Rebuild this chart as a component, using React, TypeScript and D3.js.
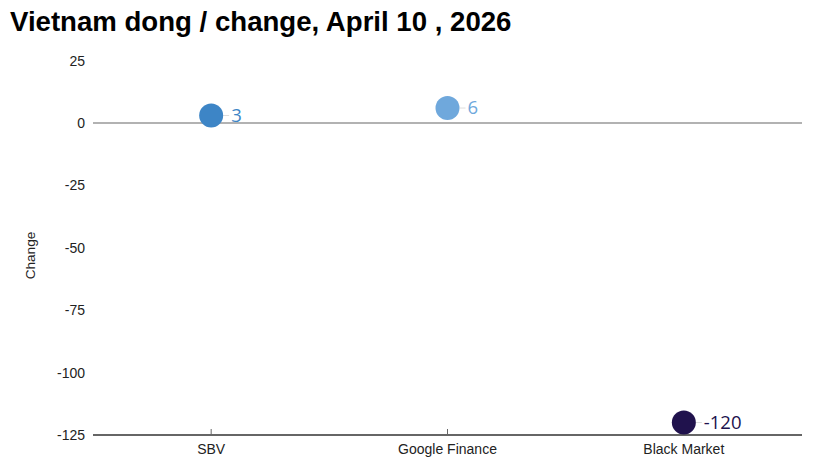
import React from "react";
import * as d3 from "d3";

const categories = ["SBV", "Google Finance", "Black Market"];
const values = [3, 6, -120];
const colors = ["#3d85c6", "#6fa8dc", "#20124d"];
const yTicks = [25, 0, -25, -50, -75, -100, -125];
const title = "Vietnam dong / change, April 10 , 2026";
const yLabel = "Change";

export default function App() {
  const W = 821, H = 463;
  const x = d3.scaleBand<string>().domain(categories).range([93, 802]).padding(0);
  const y = d3.scaleLinear().domain([-125, 25]).range([435, 60.6]);
  const font = "'Liberation Sans', Arial, sans-serif";
  return (
    <svg width={W} height={H} style={{ position: "absolute", left: 0, top: 0 }}>
      <rect width={W} height={H} fill="#fff" />
      <text x={10} y={31} fontFamily={font} fontWeight="bold" fontSize={27.6} fill="#000">{title}</text>
      {yTicks.map((t) => (
        <text key={t} x={85} y={y(t)} dy="0.35em" textAnchor="end" fontFamily={font} fontSize={14} fill="#222">{t}</text>
      ))}
      <text transform={`translate(35,${255.5}) rotate(-90)`} textAnchor="middle" fontFamily={font} fontSize={13.6} fill="#222">{yLabel}</text>
      <line x1={93} x2={802} y1={y(0)} y2={y(0)} stroke="#666" strokeWidth={1.2} />
      <line x1={93} x2={802} y1={y(-125)} y2={y(-125)} stroke="#333" strokeWidth={1.3} />
      {categories.map((c) => {
        const cx = (x(c) as number) + x.bandwidth() / 2;
        return (
          <g key={c}>
            <line x1={cx} x2={cx} y1={y(-125)} y2={y(-125) - 6} stroke="#666" />
            <text x={cx} y={y(-125) + 19} textAnchor="middle" fontFamily={font} fontSize={14} fill="#222">{c}</text>
          </g>
        );
      })}
      {categories.map((c, i) => {
        const cx = (x(c) as number) + x.bandwidth() / 2;
        const cy = y(values[i]);
        return (
          <g key={"p" + c}>
            <line x1={cx + 12} x2={cx + 18} y1={cy} y2={cy} stroke="#ddd" />
            <circle cx={cx} cy={cy} r={12} fill={colors[i]} />
            <text x={cx + 20} y={cy} dy="0.35em" fontFamily="'Open Sans', sans-serif" fontSize={18.5} fill={colors[i]}>{values[i]}</text>
          </g>
        );
      })}
    </svg>
  );
}
